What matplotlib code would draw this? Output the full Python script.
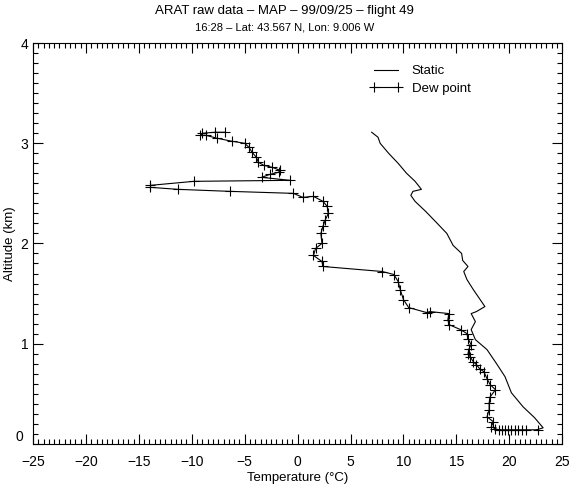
import matplotlib
matplotlib.use("Agg")
from matplotlib import pyplot as plt
from matplotlib.ticker import MultipleLocator
from matplotlib.transforms import ScaledTranslation

plt.rcParams['font.family'] = ['Liberation Sans', 'DejaVu Sans']

# static temperature profile (deg C, km)
static_t = [7.0, 7.6, 7.8, 8.6, 9.5, 10.3, 11.1, 11.7, 10.9, 10.7, 11.1, 12.1, 13.2,
            14.1, 14.7, 15.5, 15.6, 16.1, 15.7, 16.0, 16.6, 17.7, 16.9, 16.4, 16.8,
            16.4, 16.8, 17.9, 18.8, 19.6, 20.2, 21.3, 22.4, 23.2, 22.6]
static_alt = [3.11, 3.06, 3.00, 2.90, 2.80, 2.70, 2.62, 2.54, 2.52, 2.48, 2.42, 2.32, 2.20,
              2.10, 1.98, 1.90, 1.83, 1.77, 1.72, 1.64, 1.54, 1.37, 1.32, 1.30, 1.22,
              1.14, 1.04, 0.94, 0.80, 0.67, 0.51, 0.37, 0.26, 0.16, 0.14]

# dew point profile (deg C, km)
dew_t = [22.7, 21.6, 21.2, 20.8, 20.5, 20.2, 19.9, 19.6, 19.3, 19.0, 18.7, 18.3,
         18.5, 17.9, 18.1, 18.1, 18.2, 18.7, 18.2, 17.9, 17.6, 17.2, 16.9, 16.6,
         16.3, 16.1, 16.2, 16.4, 16.1, 16.0, 15.4, 14.3, 14.2, 14.3, 12.5, 12.2,
         10.5, 10.0, 9.7, 9.5, 9.1, 8.0, 2.4, 2.3, 1.5, 1.7, 2.3, 2.2, 2.4, 2.6,
         2.9, 2.8, 2.4, 1.5, 0.5, -0.4, -6.4, -11.3, -13.9, -13.9, -9.8, -0.7,
         -3.4, -2.6, -1.8, -1.65, -2.4, -3.2, -3.7, -3.9, -4.3, -4.6, -5.0, -6.2,
         -7.6, -8.7, -9.2, -9.0, -7.8, -6.9]
dew_alt = [0.14, 0.14, 0.14, 0.14, 0.14, 0.14, 0.14, 0.14, 0.14, 0.14, 0.15, 0.17,
           0.22, 0.27, 0.34, 0.41, 0.47, 0.54, 0.59, 0.65, 0.72, 0.75, 0.79, 0.82,
           0.87, 0.90, 0.95, 0.99, 1.05, 1.10, 1.14, 1.19, 1.24, 1.30, 1.32, 1.31,
           1.36, 1.44, 1.54, 1.62, 1.69, 1.72, 1.77, 1.82, 1.88, 1.95, 2.00, 2.10,
           2.17, 2.23, 2.30, 2.37, 2.42, 2.47, 2.46, 2.50, 2.52, 2.54, 2.56, 2.58,
           2.62, 2.63, 2.66, 2.69, 2.71, 2.73, 2.76, 2.78, 2.81, 2.86, 2.91, 2.96,
           3.00, 3.02, 3.05, 3.08, 3.08, 3.10, 3.11, 3.11]

alt_ticks = [0, 1, 2, 3, 4]

fig = plt.figure(figsize=(5.69, 4.84), dpi=100)
ax = fig.add_axes([0.058, 0.083, 0.93, 0.828])

ax.plot(static_t, static_alt, color='black', lw=0.8, label='Static')
ax.plot(dew_t, dew_alt, color='black', lw=0.8, marker='+', ms=7, mew=0.8, label='Dew point')

ax.set_xlim(-25, 25)
ax.set_ylim(0, 4)
ax.xaxis.set_major_locator(MultipleLocator(5))
ax.xaxis.set_minor_locator(MultipleLocator(0.5))
ax.set_yticks(alt_ticks, [''] + [str(v) for v in alt_ticks[1:]])
ax.yaxis.set_minor_locator(MultipleLocator(0.1))
ax.tick_params(which='both', direction='in', top=True, right=True, labelsize=10, width=0.8)
ax.tick_params(which='major', length=7)
ax.tick_params(which='minor', length=3.5)
ax.tick_params(axis='x', which='major', pad=8)
for s in ax.spines.values():
    s.set_linewidth(0.8)

# the "0" altitude label sits a bit above the axis, like the original
lift = ax.get_yaxis_transform() + ScaledTranslation(-7 / 72, 5 / 72, fig.dpi_scale_trans)
ax.text(0, alt_ticks[0], str(alt_ticks[0]), transform=lift, ha='right', va='center', fontsize=10)

ax.set_xlabel('Temperature (°C)', fontsize=9.5, labelpad=2)
ax.set_ylabel('Altitude (km)', fontsize=9.5, labelpad=3)

fig.text(0.5, 0.978, 'ARAT raw data – MAP – 99/09/25 – flight 49', ha='center', va='center', fontsize=9.5)
fig.text(0.5, 0.944, '16:28 – Lat: 43.567 N, Lon: 9.006 W', ha='center', va='center', fontsize=8)

ax.legend(loc='upper left', bbox_to_anchor=(0.615, 0.975), frameon=False, numpoints=2,
          fontsize=9.5, handlelength=2.4, handletextpad=0.75, labelspacing=0.4)

fig.savefig('out.png', dpi=100)
plt.close()
